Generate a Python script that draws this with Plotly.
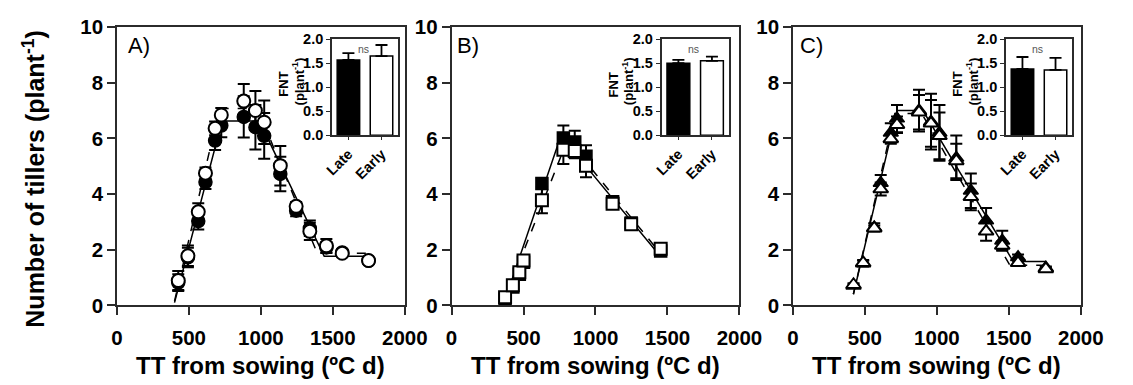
import plotly.graph_objects as go

# ---------------- data ----------------
# Panel A (circles)
a_x = [426, 493, 565, 615, 682, 725, 881, 962, 1023, 1135, 1245, 1340, 1455, 1565, 1748]
a_late = [0.82, 1.72, 3.03, 4.43, 5.92, 6.46, 6.77, 6.40, 6.09, 4.72, 3.40, 2.77, 2.08, 1.90, 1.60]
a_late_err = [0.30, 0.35, 0.30, 0.25, 0.34, 0.42, 0.74, 0.80, 0.82, 0.62, 0.20, 0.28, 0.20, 0.12, 0.10]
a_early = [0.89, 1.78, 3.36, 4.75, 6.36, 6.84, 7.34, 7.00, 6.58, 5.02, 3.56, 2.66, 2.14, 1.87, 1.61]
a_early_err = [0.34, 0.37, 0.31, 0.20, 0.25, 0.25, 0.61, 0.70, 0.78, 0.71, 0.15, 0.31, 0.24, 0.12, 0.10]
a_fit_late_x = [400, 730, 990, 1440, 1760]
a_fit_late_y = [0.10, 6.62, 6.62, 1.76, 1.76]
a_fit_early_x = [400, 712, 977, 1392, 1760]
a_fit_early_y = [0.15, 7.07, 7.07, 1.87, 1.87]

# Panel B (squares)
b_x = [372, 426, 471, 500, 628, 777, 856, 934, 1119, 1248, 1453]
b_late = [0.22, 0.66, 1.12, 1.55, 4.38, 6.01, 5.87, 5.36, 3.72, 2.96, 1.95]
b_late_err = [0.05, 0.05, 0.05, 0.05, 0.20, 0.45, 0.40, 0.39, 0.10, 0.08, 0.08]
b_early = [0.29, 0.72, 1.19, 1.61, 3.78, 5.59, 5.55, 5.02, 3.65, 2.91, 2.03]
b_early_err = [0.05, 0.05, 0.05, 0.05, 0.47, 0.51, 0.26, 0.42, 0.10, 0.08, 0.08]
b_fit_late_x = [372, 760, 1420, 1453]
b_fit_late_y = [0.20, 6.09, 1.95, 1.95]
b_fit_early_x = [372, 780, 860, 1430, 1453]
b_fit_early_y = [0.25, 5.62, 5.62, 2.00, 2.00]

# Panel C (triangles)
c_x = [421, 488, 565, 610, 680, 723, 876, 959, 1018, 1135, 1236, 1342, 1454, 1564, 1757]
c_late = [0.70, 1.50, 2.80, 4.40, 6.20, 6.71, 7.00, 6.60, 6.20, 5.30, 4.12, 3.05, 2.32, 1.73, 1.35]
c_late_err = [0.05, 0.10, 0.15, 0.28, 0.34, 0.49, 0.75, 1.00, 1.00, 0.80, 0.62, 0.45, 0.36, 0.10, 0.05]
c_early = [0.74, 1.53, 2.77, 4.18, 5.98, 6.49, 6.94, 6.54, 6.09, 5.19, 3.90, 2.66, 2.15, 1.53, 1.31]
c_early_err = [0.05, 0.10, 0.10, 0.23, 0.17, 0.30, 0.62, 0.84, 0.84, 0.62, 0.48, 0.34, 0.15, 0.08, 0.05]
c_fit_late_x = [420, 723, 903, 1530, 1760]
c_fit_late_y = [0.40, 7.00, 7.00, 1.58, 1.58]
c_fit_early_x = [420, 708, 895, 1507, 1760]
c_fit_early_y = [0.40, 6.89, 6.89, 1.44, 1.44]

# Insets: final tiller number (FNT)
fnt_cats = ["Late", "Early"]
fnt_a = [1.57, 1.65]
fnt_a_err = [0.14, 0.23]
fnt_b = [1.50, 1.55]
fnt_b_err = [0.07, 0.09]
fnt_c = [1.38, 1.36]
fnt_c_err = [0.25, 0.25]

panel_labels = ["A)", "B)", "C)"]
x_title = "TT from sowing (ºC d)"
y_title = "Number of tillers (plant<sup>-1</sup>)"

# ---------------- layout geometry (pixels) ----------------
W, H = 1133, 385
FONT = "Liberation Sans, Arial, sans-serif"
main_x_px = [(112, 408), (456, 752), (807, 1103)]
main_y_px = (16, 312)
inset_x_px = [(333, 401), (672, 741), (1026, 1094)]
inset_y_px = (29, 131)

def xd(a, b):
    return [a / W, b / W]

def yd(top, bottom):
    return [(H - bottom) / H, (H - top) / H]

fig = go.Figure()

panels = [
    (a_x, a_late, a_late_err, a_early, a_early_err, a_fit_late_x, a_fit_late_y, a_fit_early_x, a_fit_early_y, "circle", 13),
    (b_x, b_late, b_late_err, b_early, b_early_err, b_fit_late_x, b_fit_late_y, b_fit_early_x, b_fit_early_y, "square", 12),
    (c_x, c_late, c_late_err, c_early, c_early_err, c_fit_late_x, c_fit_late_y, c_fit_early_x, c_fit_early_y, "triangle-up", 13),
]

for i, (px, yl, el, ye, ee, flx, fly, fex, fey, sym, msz) in enumerate(panels):
    xa = "x" if i == 0 else f"x{i+1}"
    ya = "y" if i == 0 else f"y{i+1}"
    fig.add_trace(go.Scatter(x=flx, y=fly, mode="lines", line=dict(color="black", width=1.5),
                             xaxis=xa, yaxis=ya, showlegend=False, hoverinfo="skip"))
    fig.add_trace(go.Scatter(x=fex, y=fey, mode="lines", line=dict(color="black", width=1.5, dash="dash"),
                             xaxis=xa, yaxis=ya, showlegend=False, hoverinfo="skip"))
    fig.add_trace(go.Scatter(x=px, y=yl, mode="markers",
                             marker=dict(symbol=sym, size=msz, color="black", line=dict(color="black", width=1.5)),
                             error_y=dict(type="data", array=el, color="black", thickness=2, width=6),
                             xaxis=xa, yaxis=ya, showlegend=False))
    fig.add_trace(go.Scatter(x=px, y=ye, mode="markers",
                             marker=dict(symbol=sym, size=msz, color="white", line=dict(color="black", width=2)),
                             error_y=dict(type="data", array=ee, color="black", thickness=2, width=6),
                             xaxis=xa, yaxis=ya, showlegend=False))

insets = [(fnt_a, fnt_a_err), (fnt_b, fnt_b_err), (fnt_c, fnt_c_err)]
for i, (vals, errs) in enumerate(insets):
    n = i + 4
    fig.add_trace(go.Bar(x=fnt_cats, y=vals,
                         marker=dict(color=["black", "white"], line=dict(color="black", width=1.5)),
                         error_y=dict(type="data", array=errs, arrayminus=[0, 0], symmetric=False,
                                      color="black", thickness=1.8, width=6),
                         xaxis=f"x{n}", yaxis=f"y{n}", showlegend=False))

AXC = "#2b2b2b"
layout = dict(width=W, height=H, margin=dict(l=0, r=0, t=0, b=0),
              paper_bgcolor="white", plot_bgcolor="white", bargap=0.32,
              font=dict(family=FONT, color="black"))

annotations = []
for i in range(3):
    k = "" if i == 0 else str(i + 1)
    ax0, ax1 = main_x_px[i]
    layout[f"xaxis{k}"] = dict(domain=xd(ax0, ax1), anchor=f"y{k}", range=[0, 2000],
                               tickvals=[0, 500, 1000, 1500, 2000],
                               showline=True, linecolor=AXC, linewidth=1.5, mirror=True,
                               ticks="outside", ticklen=8, tickwidth=1.5, tickcolor=AXC,
                               ticklabelstandoff=5,
                               showgrid=False, zeroline=False,
                               tickfont=dict(family=FONT, size=20.5, color="black", weight="bold"))
    layout[f"yaxis{k}"] = dict(domain=yd(*main_y_px), anchor=f"x{k}", range=[0, 10],
                               tickvals=[0, 2, 4, 6, 8, 10],
                               showline=True, linecolor=AXC, linewidth=1.5, mirror=True,
                               ticks="outside", ticklen=8, tickwidth=1.5, tickcolor=AXC,
                               showgrid=False, zeroline=False,
                               tickfont=dict(family=FONT, size=20.5, color="black", weight="bold"))
    # x title
    annotations.append(dict(text=x_title, x=(ax0 + ax1) / 2 / W, y=(H - 376) / H, xref="paper", yref="paper",
                            xanchor="center", yanchor="middle", showarrow=False,
                            font=dict(family=FONT, size=24, color="black", weight="bold")))
    # panel label
    lx = [121, 460, 812][i]
    annotations.append(dict(text=panel_labels[i], x=lx / W, y=(H - 35.5) / H, xref="paper", yref="paper",
                            xanchor="left", yanchor="middle", showarrow=False,
                            font=dict(family=FONT, size=22, color="black")))

    # inset axes
    n = i + 4
    ix0, ix1 = inset_x_px[i]
    layout[f"xaxis{n}"] = dict(domain=xd(ix0, ix1), anchor=f"y{n}", type="category",
                               range=[-0.5, 1.5],
                               showline=True, linecolor=AXC, linewidth=1.5, mirror=True,
                               ticks="outside", ticklen=3, tickwidth=1, tickcolor=AXC,
                               tickangle=-45, showgrid=False, zeroline=False,
                               tickfont=dict(family=FONT, size=14.5, color="black", weight="bold"))
    layout[f"yaxis{n}"] = dict(domain=yd(*inset_y_px), anchor=f"x{n}", range=[0, 2],
                               tickvals=[0, 0.5, 1.0, 1.5, 2.0], tickformat=".1f",
                               showline=True, linecolor=AXC, linewidth=1.5, mirror=True,
                               ticks="outside", ticklen=4, tickwidth=1.2, tickcolor=AXC,
                               showgrid=False, zeroline=False,
                               tickfont=dict(family=FONT, size=14.5, color="black", weight="bold"))
    # inset y title
    annotations.append(dict(text="FNT", x=(ix0 - 50) / W, y=(H - 77) / H, xref="paper", yref="paper",
                            xanchor="center", yanchor="middle", textangle=-90, showarrow=False,
                            font=dict(family=FONT, size=13, color="black", weight="bold")))
    annotations.append(dict(text="(plant<sup>-1</sup>)", x=(ix0 - 35) / W, y=(H - 74) / H,
                            xref="paper", yref="paper",
                            xanchor="center", yanchor="middle", textangle=-90, showarrow=False,
                            font=dict(family=FONT, size=13, color="black", weight="bold")))
    # ns
    annotations.append(dict(text="ns", x=0.45, y=1.8, xref=f"x{n}", yref=f"y{n}",
                            xanchor="center", yanchor="middle", showarrow=False,
                            font=dict(family=FONT, size=10.5, color="#555555")))

# shared y title
annotations.append(dict(text=y_title, x=27 / W, y=(H - 177) / H, xref="paper", yref="paper",
                        xanchor="center", yanchor="middle", textangle=-90, showarrow=False,
                        font=dict(family=FONT, size=25, color="black", weight="bold")))

layout["annotations"] = annotations
fig.update_layout(**layout)
fig.write_html("out.html")
